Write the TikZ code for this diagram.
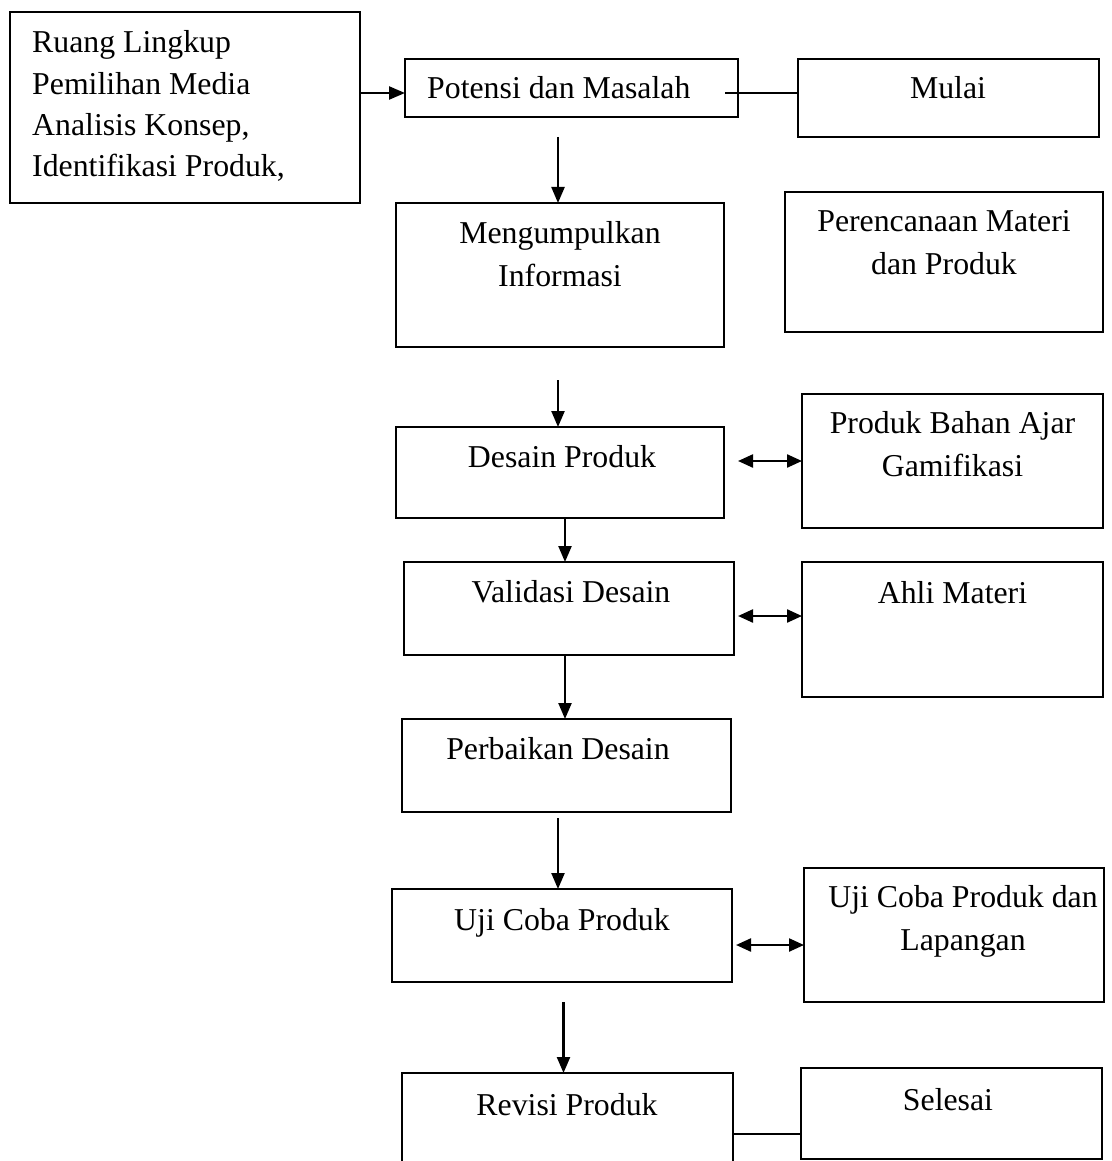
\documentclass[tikz,border=0pt]{standalone}
\usepackage{fontspec}
\setmainfont{Liberation Serif}
\usetikzlibrary{arrows.meta}
\begin{document}
\begin{tikzpicture}[x=1pt,y=-1pt,
 box/.style={draw, line width=1.7pt, inner sep=0pt, outer sep=0pt, anchor=north west},
 txt/.style={inner sep=0pt, font=\fontsize{31.8}{43.5}\selectfont},
 tip/.style={},
 arr/.style={line width=2.3pt, -{Triangle[length=16pt,width=13pt]}},
 darr/.style={line width=2.3pt, {Triangle[length=15pt,width=13pt]}-{Triangle[length=15pt,width=13pt]}},
 ln/.style={line width=1.9pt}]
\useasboundingbox (0,0) rectangle (1111,1161);
\clip (0,0) rectangle (1111,1161);
% boxes
\node[box, minimum width=350pt, minimum height=191pt] (left) at (10,12) {};
\node[box, minimum width=333pt, minimum height=58pt] (pot) at (405,59) {};
\node[box, minimum width=301pt, minimum height=78pt] (mulai) at (798,59) {};
\node[box, minimum width=328pt, minimum height=144pt] (meng) at (396,203) {};
\node[box, minimum width=318pt, minimum height=140pt] (peren) at (785,192) {};
\node[box, minimum width=328pt, minimum height=91pt] (desain) at (396,427) {};
\node[box, minimum width=301pt, minimum height=134pt] (pbag) at (802,394) {};
\node[box, minimum width=330pt, minimum height=93pt] (valid) at (404,562) {};
\node[box, minimum width=301pt, minimum height=135pt] (ahli) at (802,562) {};
\node[box, minimum width=329pt, minimum height=93pt] (perb) at (402,719) {};
\node[box, minimum width=340pt, minimum height=93pt] (uji) at (392,889) {};
\node[box, minimum width=300pt, minimum height=134pt] (ujil) at (804,868) {};
\node[box, minimum width=331pt, minimum height=110pt] (revisi) at (402,1073) {};
\node[box, minimum width=301pt, minimum height=91pt] (selesai) at (801,1068) {};
% texts
\node[txt, anchor=base west, font=\fontsize{31.8}{41.3}\selectfont] (leftT) at (32,53)
  {\begin{tabular}[t]{@{}l@{}}Ruang Lingkup\\Pemilihan Media\\Analisis Konsep,\\Identifikasi Produk,\end{tabular}};
\node[txt, anchor=base west] (potT) at (427,99) {Potensi dan Masalah};
\node[txt, anchor=base] (mulaiT) at (948,99) {Mulai};
\node[txt, anchor=base] (mengT) at (560,243) {\begin{tabular}[t]{@{}c@{}}Mengumpulkan\\Informasi\end{tabular}};
\node[txt, anchor=base] (perenT) at (944,231) {\begin{tabular}[t]{@{}c@{}}Perencanaan Materi\\dan Produk\end{tabular}};
\node[txt, anchor=base] (desainT) at (562,467) {Desain Produk};
\node[txt, anchor=base] (pbagT) at (952.5,433) {\begin{tabular}[t]{@{}c@{}}Produk Bahan Ajar\\Gamifikasi\end{tabular}};
\node[txt, anchor=base] (validT) at (571,602) {Validasi Desain};
\node[txt, anchor=base] (ahliT) at (952.5,603) {Ahli Materi};
\node[txt, anchor=base] (perbT) at (558,759) {Perbaikan Desain};
\node[txt, anchor=base] (ujiT) at (562,930) {Uji Coba Produk};
\node[txt, anchor=base] (ujilT) at (963,907) {\begin{tabular}[t]{@{}c@{}}Uji Coba Produk dan\\Lapangan\end{tabular}};
\node[txt, anchor=base] (revisiT) at (567,1115) {Revisi Produk};
\node[txt, anchor=base] (selesaiT) at (948,1110) {Selesai};
% connectors
\coordinate (p1) at ([yshift=-5pt]pot.west);
\draw[arr] (left.east |- p1) -- (p1);
\coordinate (l1) at ([xshift=-13pt]pot.east |- p1);
\draw[ln] (l1) -- (l1 -| mulai.west);
\draw[arr] ([xshift=-2pt,yshift=66pt]meng.north) -- ([xshift=-2pt]meng.north);
\draw[arr] ([xshift=-2pt,yshift=47pt]desain.north) -- ([xshift=-2pt]desain.north);
\draw[arr] ([xshift=5pt]desain.south) -- ([xshift=5pt]desain.south |- valid.north);
\draw[darr] ([xshift=14pt]desain.east |- pbag.west) -- (pbag.west);
\coordinate (d2) at ([yshift=13.5pt]ahli.west);
\draw[darr] ([xshift=4pt]valid.east |- d2) -- (d2);
\draw[arr] ([xshift=-4pt]valid.south) -- ([xshift=-4pt]valid.south |- perb.north);
\draw[arr] ([xshift=-8.5pt,yshift=-6pt]perb.south) -- ([xshift=-8.5pt]perb.south |- uji.north);
\coordinate (d3) at ([yshift=-10pt]ujil.west);
\draw[darr] ([xshift=4pt]uji.east |- d3) -- (d3);
\draw[arr] ([xshift=1.5pt,yshift=-20pt]uji.south) -- ([xshift=1.5pt]uji.south |- revisi.north);
\coordinate (l2) at ([yshift=-6pt]revisi.east);
\draw[ln] (l2) -- (l2 -| selesai.west);
\end{tikzpicture}
\end{document}
